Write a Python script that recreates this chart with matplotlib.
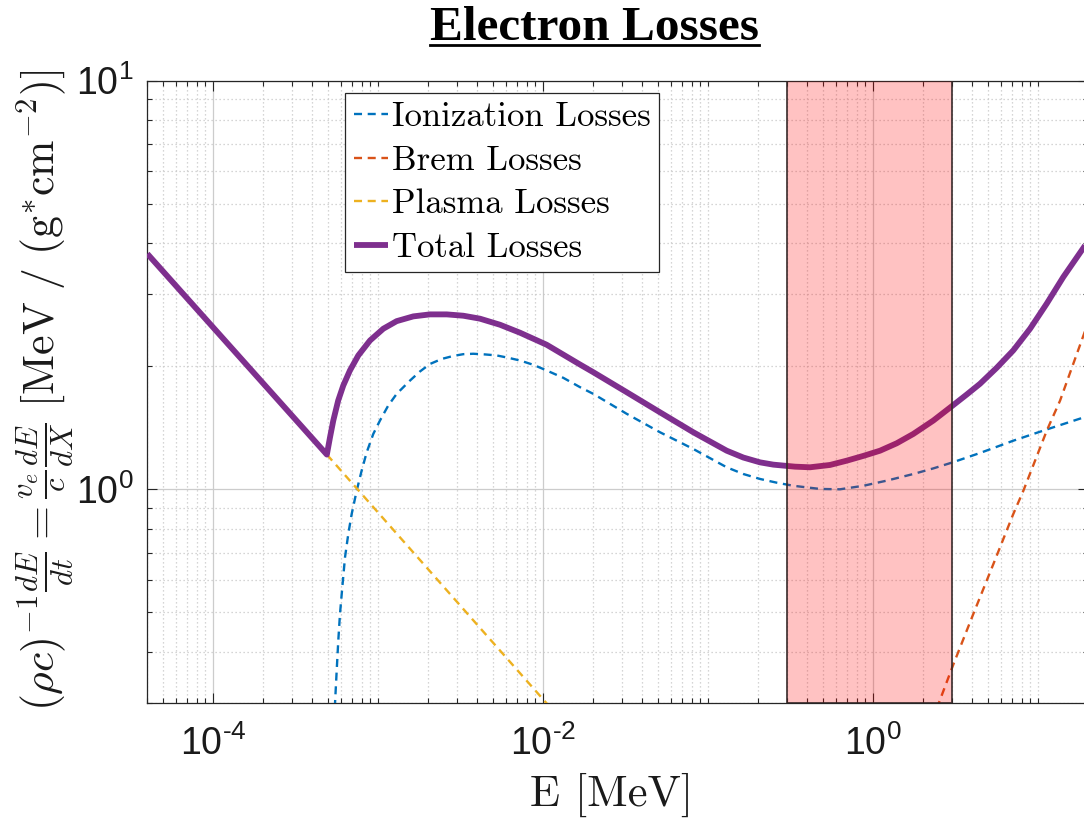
import numpy as np
import matplotlib
matplotlib.use('Agg')
import matplotlib.pyplot as plt
from matplotlib.ticker import FixedLocator, LogLocator, NullFormatter, FuncFormatter
from matplotlib.lines import Line2D

plt.rcParams['font.family'] = ['Liberation Sans', 'DejaVu Sans']
plt.rcParams['mathtext.fontset'] = 'custom'
plt.rcParams['mathtext.rm'] = 'Liberation Sans'
plt.rcParams['mathtext.it'] = 'Liberation Sans:italic'
plt.rcParams['mathtext.bf'] = 'Liberation Sans:bold'

# ---------------- data (E in MeV, losses in MeV/(g cm^-2)) ----------------
E_total = [4.0e-5, 4.9e-4, 5.12e-4, 5.36e-4, 5.74e-4, 6.16e-4, 6.76e-4, 7.60e-4,
           8.95e-4, 1.077e-3, 1.298e-3, 1.637e-3, 2.065e-3, 2.61e-3, 3.29e-3,
           4.15e-3, 5.49e-3, 7.26e-3, 1.052e-2, 1.675e-2, 2.018e-2, 3.216e-2,
           5.118e-2, 8.146e-2, 0.1298, 0.1637, 0.2066, 0.249, 0.3367, 0.415,
           0.5489, 0.6929, 0.8733, 1.103, 1.392, 1.755, 2.32, 3.04, 3.70, 4.45,
           5.62, 7.08, 8.95, 11.29, 14.23, 19.0, 20.0]
total = [3.77, 1.216, 1.340, 1.473, 1.649, 1.794, 1.953, 2.126,
         2.313, 2.471, 2.579, 2.649, 2.679, 2.679, 2.659,
         2.615, 2.527, 2.416, 2.258, 2.020, 1.934, 1.728,
         1.543, 1.379, 1.243, 1.196, 1.164, 1.149, 1.136, 1.132,
         1.147, 1.175, 1.207, 1.243, 1.296, 1.366, 1.473, 1.603, 1.706, 1.812,
         1.983, 2.187, 2.471, 2.846, 3.307, 3.916, 4.05]

E_ion = [5.40e-4, 5.487e-4, 5.619e-4, 5.746e-4, 5.884e-4, 6.076e-4, 6.31e-4,
         6.607e-4, 6.928e-4, 7.429e-4, 7.963e-4, 8.54e-4, 9.365e-4, 1.028e-3,
         1.154e-3, 1.298e-3, 1.563e-3, 1.796e-3, 2.066e-3, 2.432e-3, 2.861e-3,
         3.289e-3, 3.781e-3, 4.45e-3, 5.24e-3, 6.16e-3, 7.254e-3, 8.73e-3,
         1.053e-2, 1.327e-2, 1.676e-2, 2.018e-2, 3.216e-2, 5.118e-2, 8.146e-2,
         0.1298, 0.1637, 0.2066, 0.2608, 0.3289, 0.4774, 0.631, 0.8733, 1.211,
         1.755, 2.32, 3.04, 4.45, 7.08, 11.54, 19.0, 20.0]
ionization = [0.25, 0.2977, 0.3592, 0.4255, 0.4949, 0.5748, 0.6808,
              0.7772, 0.8699, 0.9922, 1.111, 1.231, 1.366, 1.473,
              1.603, 1.712, 1.845, 1.942, 2.026, 2.084, 2.120,
              2.141, 2.146, 2.138, 2.126, 2.098, 2.066, 2.017,
              1.953, 1.874, 1.778, 1.712, 1.530, 1.379, 1.255,
              1.132, 1.090, 1.060, 1.038, 1.020, 1.002, 1.000, 1.020, 1.050,
              1.090, 1.125, 1.164, 1.227, 1.315, 1.405, 1.50, 1.51]

E_brem = [2.30, 2.49, 3.07, 4.05, 5.36, 7.08, 8.15, 11.3, 13.6, 19.0, 20.0]
brem = [0.27, 0.298, 0.373, 0.495, 0.656, 0.870, 0.992, 1.392, 1.648, 2.40, 2.55]

E_plasma = [4.9e-4, 1.2e-2]
plasma = [1.216, 0.282]

band = [0.3, 3.0]
labels = ['Ionization Losses', 'Brem Losses', 'Plasma Losses', 'Total Losses']
x_major = [1e-4, 1e-2, 1e0]
y_major = [1e0, 1e1]


def sci_label(v, pos):
    e = int(round(np.log10(v)))
    s = str(abs(e))
    if e < 0:
        s = '\u2010' + s
    return r'$\mathdefault{10^{' + s + r'}}$'


# ---------------- figure ----------------
W, H = 1084, 822
fig = plt.figure(figsize=(W / 100, H / 100), dpi=100)
L, R, T, B = 147.3, 1087.7, 80.6, 703.0
ax = fig.add_axes([L / W, 1 - B / H, (R - L) / W, (B - T) / H])
ax.set_xscale('log')
ax.set_yscale('log')
ax.set_xlim(4e-5, 20)
ax.set_ylim(0.3, 10)

ax.xaxis.set_major_locator(FixedLocator(x_major))
ax.xaxis.set_minor_locator(LogLocator(base=10, subs=np.arange(1, 10), numticks=60))
ax.xaxis.set_major_formatter(FuncFormatter(sci_label))
ax.xaxis.set_minor_formatter(NullFormatter())
ax.yaxis.set_major_locator(FixedLocator(y_major))
ax.yaxis.set_minor_locator(LogLocator(base=10, subs=np.arange(1, 10), numticks=60))
ax.yaxis.set_major_formatter(FuncFormatter(sci_label))
ax.yaxis.set_minor_formatter(NullFormatter())

spc = '#262626'
ax.tick_params(which='both', direction='in', top=True, right=True, colors=spc,
               width=0.8)
ax.tick_params(which='major', length=7, labelsize=27, labelcolor='#1a1a1a')
ax.tick_params(which='minor', length=3.8)
ax.tick_params(axis='x', which='major', pad=16)
ax.tick_params(axis='y', which='major', pad=10)
for s in ax.spines.values():
    s.set_color(spc)
    s.set_linewidth(0.9)

ax.set_axisbelow(True)
ax.grid(True, which='major', color='#cccccc', lw=0.9, ls='-')
ax.grid(True, which='minor', color='#c8c8c8', lw=0.9, ls=(0, (1, 2.2)))

dash = (3.4, 2.4)
l1, = ax.plot(E_ion, ionization, color='#0072BD', lw=1.7, dashes=dash, label=labels[0], zorder=3)
l2, = ax.plot(E_brem, brem, color='#D95319', lw=1.7, dashes=dash, label=labels[1], zorder=3)
l3, = ax.plot(E_plasma, plasma, color='#EDB120', lw=1.7, dashes=dash, label=labels[2], zorder=3)
l4, = ax.plot(E_total, total, color='#7E2F8E', lw=4.2, label=labels[3], zorder=4,
              solid_joinstyle='round', solid_capstyle='butt')

ax.axvspan(band[0], band[1], facecolor=(1, 0, 0, 0.24), edgecolor=(0.2, 0.15, 0.15, 0.9),
           lw=1.3, zorder=5)

# legend
lx = (345 - L) / (R - L)
ly = (B - 93) / (B - T)
leg = ax.legend(handles=[l1, l2, l3, l4], loc='upper left', bbox_to_anchor=(lx, ly),
                borderaxespad=0, fancybox=False, edgecolor=spc, framealpha=1,
                prop={'family': 'cmr10', 'size': 25}, handlelength=1.0,
                handletextpad=0.1, labelspacing=0.34, borderpad=0.25)
leg.get_frame().set_linewidth(0.9)
leg.set_zorder(10)

# axis labels
fig.text(45 / W, 1 - 390 / H,
         r'$(\rho c)^{-1}\frac{dE}{dt} = \frac{v_e}{c}\frac{dE}{dX}\ [\mathrm{MeV\ /\ (g^{*}cm^{-2})}]$',
         rotation=90, ha='center', va='center', fontsize=31.5, math_fontfamily='cm',
         color='#1a1a1a')
fig.text(612 / W, 1 - 795 / H, 'E [MeV]', ha='center', va='center',
         family='cmr10', fontsize=32, color='#1a1a1a')

# title with underline
title = fig.text(594 / W, 1 - 40 / H, 'Electron Losses', ha='center', va='baseline',
                 family='Liberation Serif', weight='bold', fontsize=35.5, color='black')
fig.canvas.draw()
bb = title.get_window_extent(fig.canvas.get_renderer())
uy = 1 - 45 / H
fig.add_artist(Line2D([bb.x0 / W, bb.x1 / W], [uy, uy], transform=fig.transFigure,
                      color='black', lw=2.0))

fig.savefig('out.png', dpi=100)
